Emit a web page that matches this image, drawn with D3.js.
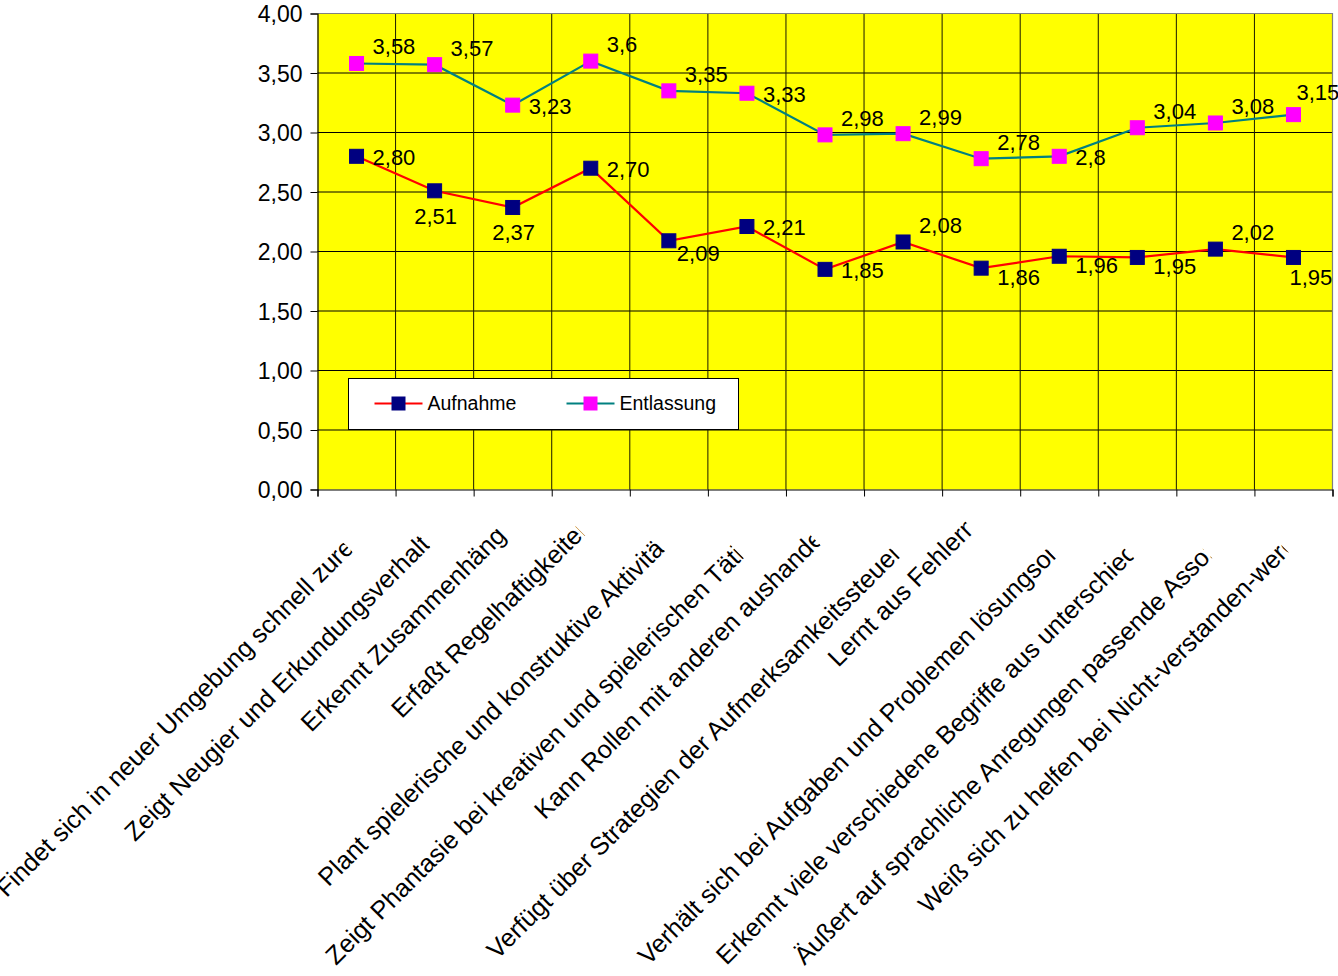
<!DOCTYPE html>
<html lang="de">
<head>
<meta charset="utf-8">
<title>Aufnahme / Entlassung</title>
<script src="https://cdn.jsdelivr.net/npm/d3@7/dist/d3.min.js"></script>
<style>
  html, body { margin: 0; padding: 0; background: #ffffff; }
  svg { display: block; }
  text { font-family: "Liberation Sans", Arial, Helvetica, sans-serif; fill: #000; }
</style>
</head>
<body>
<svg id="chart" width="1338" height="976"></svg>
<script>
// ---- data ---------------------------------------------------------------
const categories = [
  "Findet sich in neuer Umgebung schnell zurecht",
  "Zeigt Neugier und Erkundungsverhalten",
  "Erkennt Zusammenhänge",
  "Erfaßt Regelhaftigkeiten",
  "Plant spielerische und konstruktive Aktivitäten",
  "Zeigt Phantasie bei kreativen und spielerischen Tätigkeiten",
  "Kann Rollen mit anderen aushandeln",
  "Verfügt über Strategien der Aufmerksamkeitssteuerung",
  "Lernt aus Fehlern",
  "Verhält sich bei Aufgaben und Problemen lösungsorientiert",
  "Erkennt viele verschiedene Begriffe aus unterschiedlichen Bereichen",
  "Äußert auf sprachliche Anregungen passende Assoziationen",
  "Weiß sich zu helfen bei Nicht-verstanden-werden"
];
const aufnahme   = [2.80, 2.51, 2.37, 2.70, 2.09, 2.21, 1.85, 2.08, 1.86, 1.96, 1.95, 2.02, 1.95];
const entlassung = [3.58, 3.57, 3.23, 3.6, 3.35, 3.33, 2.98, 2.99, 2.78, 2.8, 3.04, 3.08, 3.15];
const yTicks = [0, 0.5, 1, 1.5, 2, 2.5, 3, 3.5, 4];
const seriesNames = ["Aufnahme", "Entlassung"];

// where each value label sits next to its marker
const aufnahmeLabelPos   = ["right", "below", "below", "right", "belowRight", "right", "right",
                            "above", "rightLow", "rightLow", "rightLow", "above", "belowLeft"];
const entlassungLabelPos = ["above", "above", "right", "above", "above", "right", "above",
                            "above", "above", "right", "above", "above", "aboveNear"];

// ---- layout -------------------------------------------------------------
const W = 1338, H = 976;
const plot = { left: 317.5, right: 1332.5, top: 13.5, bottom: 489.5 };
const FONT = "\"Liberation Sans\", Arial, Helvetica, sans-serif";

const de = d3.formatLocale({ decimal: ",", thousands: ".", grouping: [3], currency: ["", " €"] });
const fmtAxis = de.format(".2f");
const fmtSeries = [de.format(".2f"), de.format("~g")];

const svg = d3.select("#chart");

const x = d3.scaleBand().domain(d3.range(categories.length)).range([plot.left, plot.right]).padding(0);
const xEdge = d3.scaleLinear().domain([0, categories.length]).range([plot.left, plot.right]);
const y = d3.scaleLinear().domain([0, 4]).range([plot.bottom, plot.top]);
const cx = i => x(i) + x.bandwidth() / 2;

// plot background
svg.append("rect")
  .attr("x", plot.left).attr("y", plot.top)
  .attr("width", plot.right - plot.left).attr("height", plot.bottom - plot.top)
  .attr("fill", "#ffff00");

// grid lines
const grid = svg.append("g");
grid.selectAll("line.h").data(yTicks.filter(t => t > 0 && t < 4)).join("line")
  .attr("x1", plot.left).attr("x2", plot.right)
  .attr("y1", d => y(d)).attr("y2", d => y(d))
  .attr("stroke", "#000").attr("stroke-width", 1);
grid.selectAll("line.v").data(d3.range(1, categories.length)).join("line")
  .attr("x1", d => xEdge(d)).attr("x2", d => xEdge(d))
  .attr("y1", plot.top).attr("y2", plot.bottom)
  .attr("stroke", "#1a1a00").attr("stroke-width", 1);

// plot area frame (top / right)
svg.append("path")
  .attr("d", `M${plot.left},${plot.top}H${plot.right}V${plot.bottom}`)
  .attr("fill", "none").attr("stroke", "#808080").attr("stroke-width", 1.2);

// y axis
const yAxis = svg.append("g")
  .attr("transform", `translate(${plot.left},0)`)
  .call(d3.axisLeft(y).tickValues(yTicks).tickSize(7).tickPadding(8).tickFormat(fmtAxis));
yAxis.select(".domain").attr("stroke", "#000").attr("stroke-width", 1.2);
yAxis.selectAll(".tick line").attr("stroke", "#000");
yAxis.selectAll(".tick text")
  .attr("font-family", FONT).attr("font-size", 23).attr("fill", "#000")
  .attr("dy", "0.36em");

// x axis (tick marks on category boundaries)
const xAxis = svg.append("g")
  .attr("transform", `translate(0,${plot.bottom})`)
  .call(d3.axisBottom(xEdge).tickValues(d3.range(categories.length + 1)).tickSize(7).tickFormat(""));
xAxis.select(".domain").attr("stroke", "#000").attr("stroke-width", 1.2);
xAxis.selectAll(".tick line").attr("stroke", "#000");

// rotated category labels. Each label lives in a frame rotated -45° about its
// category centre: u runs along the text, v across it. Longer texts start
// further out (up to a maximum) and everything past the label box end is cut.
const CAT_FONT = 25.3;
const MAX_LEN = 624;
const U_START = { base: -387.1, perLen: -0.9398 };
const V_BASE  = { base: 361.3,  perLen: 0.050 };
const U_CUT   = { base: -372,   perLen: -0.04 };
const defs = svg.append("defs");
const catG = svg.append("g");
categories.forEach((name, i) => {
  const frame = catG.append("g").attr("transform", `translate(${cx(i)},0) rotate(-45)`);
  const inner = frame.append("g");
  const t = inner.append("text")
    .attr("font-family", FONT).attr("font-size", CAT_FONT)
    .text(name);
  const len = Math.min(t.node().getComputedTextLength(), MAX_LEN);
  const u0 = U_START.base + U_START.perLen * len;
  const v0 = V_BASE.base + V_BASE.perLen * len;
  const uCut = U_CUT.base + U_CUT.perLen * len;
  t.attr("x", u0).attr("y", v0);
  defs.append("clipPath").attr("id", `cat-clip-${i}`)
    .append("rect").attr("x", -2000).attr("y", -2000).attr("width", 2000 + uCut).attr("height", 4000);
  inner.attr("clip-path", `url(#cat-clip-${i})`);
});

// series
const series = [
  { name: seriesNames[0], values: aufnahme, line: "#ff0000", marker: "#000080", pos: aufnahmeLabelPos, fmt: fmtSeries[0] },
  { name: seriesNames[1], values: entlassung, line: "#008080", marker: "#ff00ff", pos: entlassungLabelPos, fmt: fmtSeries[1] }
];
const lineGen = d3.line().x((d, i) => cx(i)).y(d => y(d));
const MS = 14;

series.forEach(s => {
  svg.append("path").datum(s.values)
    .attr("d", lineGen).attr("fill", "none")
    .attr("stroke", s.line).attr("stroke-width", 2.2);
});
series.forEach(s => {
  svg.append("g").selectAll("rect").data(s.values).join("rect")
    .attr("x", (d, i) => cx(i) - MS / 2).attr("y", d => y(d) - MS / 2)
    .attr("width", MS).attr("height", MS)
    .attr("fill", s.marker).attr("stroke", s.marker).attr("stroke-width", 1);
});

// value labels
const placement = {
  right:      { dx: 16, dy: 1,   anchor: "start" },
  rightLow:   { dx: 16, dy: 9,   anchor: "start" },
  above:      { dx: 16, dy: -17, anchor: "start" },
  aboveNear:  { dx: 3,  dy: -23, anchor: "start" },
  below:      { dx: 1,  dy: 25,  anchor: "middle" },
  belowRight: { dx: 8,  dy: 12,  anchor: "start" },
  belowLeft:  { dx: -4, dy: 20,  anchor: "start" }
};
series.forEach(s => {
  svg.append("g").selectAll("text").data(s.values).join("text")
    .attr("font-family", FONT).attr("font-size", 22)
    .attr("text-anchor", (d, i) => placement[s.pos[i]].anchor)
    .attr("x", (d, i) => cx(i) + placement[s.pos[i]].dx)
    .attr("y", (d, i) => y(d) + placement[s.pos[i]].dy + 0.358 * 22)
    .text(d => s.fmt(d));
});

// legend
const legend = svg.append("g").attr("transform", "translate(348.5,378.5)");
legend.append("rect").attr("width", 390).attr("height", 51)
  .attr("fill", "#fff").attr("stroke", "#000").attr("stroke-width", 1);
const legendX = [26, 218];
series.forEach((s, k) => {
  const g = legend.append("g").attr("transform", `translate(${legendX[k]},25)`);
  g.append("line").attr("x1", 0).attr("x2", 48).attr("stroke", s.line).attr("stroke-width", 2.2);
  g.append("rect").attr("x", 24 - 6.5).attr("y", -6.5).attr("width", 13).attr("height", 13)
    .attr("fill", s.marker).attr("stroke", s.marker).attr("stroke-width", 1);
  g.append("text").attr("x", 53).attr("y", 0.358 * 19.5)
    .attr("font-family", FONT).attr("font-size", 19.5)
    .text(s.name);
});
</script>
</body>
</html>
